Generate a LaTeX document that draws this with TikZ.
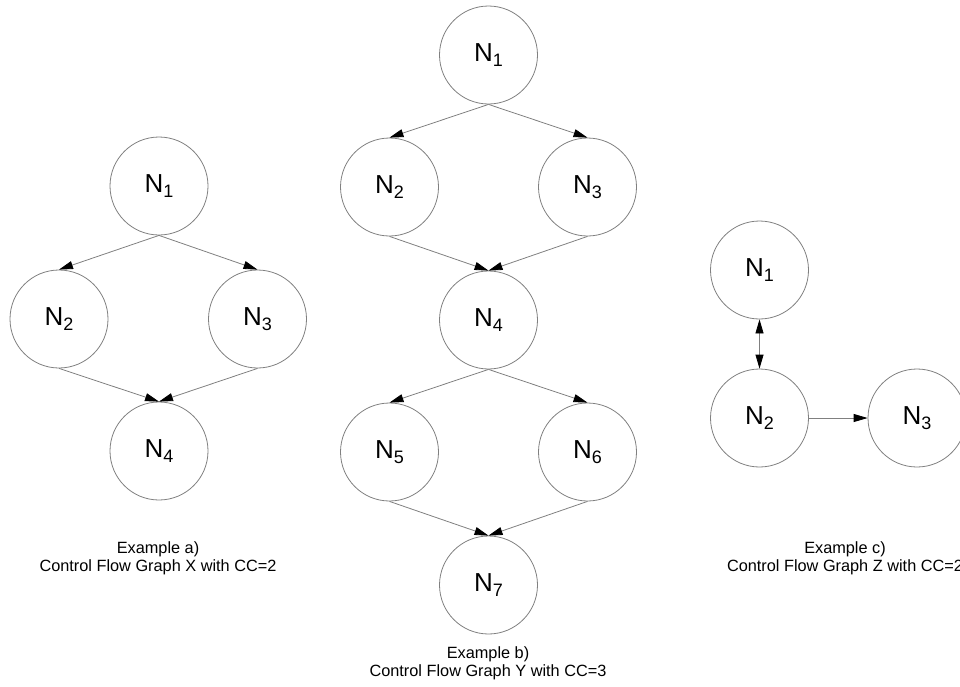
\documentclass[tikz,border=0pt]{standalone}
\usepackage{fontspec}
\setmainfont{Liberation Sans}
\usetikzlibrary{arrows.meta}
\tikzset{
  cfnode/.style={circle, draw=black!50, line width=0.8pt, minimum size=98pt, inner sep=0pt,
    font=\fontsize{26}{26}\selectfont},
  flow/.style={draw=black!50, line width=0.8pt, -{Triangle[length=14pt,width=8pt,color=black]}},
  biflow/.style={draw=black!50, line width=0.8pt,
    {Triangle[length=14pt,width=8pt,color=black]}-{Triangle[length=14pt,width=8pt,color=black]}},
  caption/.style={align=center, font=\fontsize{16.3}{18.3}\selectfont, inner sep=0pt}
}
\newcommand{\nlab}[1]{N{\fontsize{18}{18}\selectfont\raisebox{-5pt}{#1}}}
\begin{document}
\begin{tikzpicture}[x=1pt, y=-1pt]
  \useasboundingbox (0,0) rectangle (960,686);
  \clip (0,0) rectangle (960,686);

  % Graph X
  \node[cfnode] (a1) at (159,186) {\nlab{1}};
  \node[cfnode] (a2) at (59,319) {\nlab{2}};
  \node[cfnode] (a3) at (257.5,319) {\nlab{3}};
  \node[cfnode] (a4) at (159,451) {\nlab{4}};
  \draw[flow] (a1.south) -- (a2.north);
  \draw[flow] (a1.south) -- (a3.north);
  \draw[flow] (a2.south) -- (a4.north);
  \draw[flow] (a3.south) -- (a4.north);
  \node[caption] (capa) at (158,558) {Example a)\\Control Flow Graph X with CC=2};

  % Graph Y
  \node[cfnode] (b1) at (488.5,55) {\nlab{1}};
  \node[cfnode] (b2) at (389.5,187) {\nlab{2}};
  \node[cfnode] (b3) at (587.5,187) {\nlab{3}};
  \node[cfnode] (b4) at (488.5,320) {\nlab{4}};
  \node[cfnode] (b5) at (389.5,452) {\nlab{5}};
  \node[cfnode] (b6) at (587.5,452) {\nlab{6}};
  \node[cfnode] (b7) at (488.5,585) {\nlab{7}};
  \draw[flow] (b1.south) -- (b2.north);
  \draw[flow] (b1.south) -- (b3.north);
  \draw[flow] (b2.south) -- (b4.north);
  \draw[flow] (b3.south) -- (b4.north);
  \draw[flow] (b4.south) -- (b5.north);
  \draw[flow] (b4.south) -- (b6.north);
  \draw[flow] (b5.south) -- (b7.north);
  \draw[flow] (b6.south) -- (b7.north);
  \node[caption] (capb) at (488,663) {Example b)\\Control Flow Graph Y with CC=3};

  % Graph Z
  \node[cfnode] (c1) at (759.5,270) {\nlab{1}};
  \node[cfnode] (c2) at (759.5,418) {\nlab{2}};
  \node[cfnode] (c3) at (917,418) {\nlab{3}};
  \draw[biflow] (c1.south) -- (c2.north);
  \draw[flow] (c2.east) -- (c3.west);
  \node[caption] (capc) at (845,558) {Example c)\\Control Flow Graph Z with CC=2};
\end{tikzpicture}
\end{document}
